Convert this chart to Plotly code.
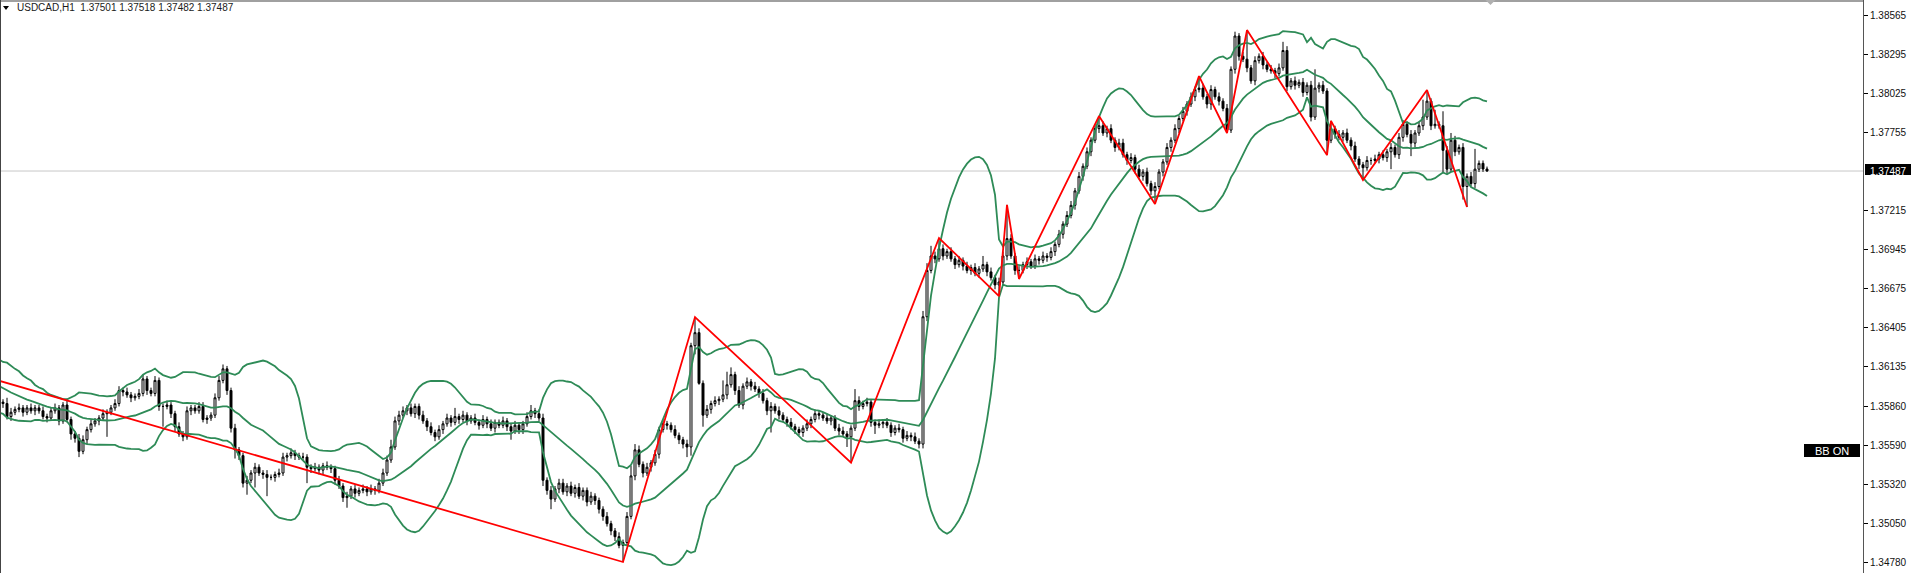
import numpy as np
import pandas as pd
import plotly.graph_objects as go

# ---------------- data ----------------
symbol_title = "USDCAD,H1"
last_ohlc = ["1.37501", "1.37518", "1.37482", "1.37487"]
current_price = 1.37487
first_bar = -20          # 20 bars before the visible window (for the bands)
first_open = 1.3616

closes = [
    1.3614, 1.3611, 1.3615, 1.3610, 1.3607, 1.3611, 1.3605, 1.3602, 1.3606, 1.3600,
    1.3597, 1.3601, 1.3595, 1.3592, 1.3595, 1.3590, 1.3587, 1.3590, 1.3586, 1.3589,
    # 0
    1.3588, 1.3579, 1.3582, 1.3584, 1.3585, 1.3582, 1.3585, 1.3583, 1.3585, 1.3583,
    1.3579, 1.3578, 1.3583, 1.3585, 1.3576, 1.3587, 1.3577, 1.3567, 1.3564, 1.3555,
    1.3563, 1.3570, 1.3574, 1.3576, 1.3578, 1.3581, 1.3582, 1.3585, 1.3588, 1.3597,
    1.3596, 1.3594, 1.3592, 1.3593, 1.3595, 1.3605, 1.3597, 1.3595, 1.3604, 1.3586,
    1.3586, 1.3587, 1.3581, 1.3572, 1.3567, 1.3565, 1.3583, 1.3585, 1.3583, 1.3586,
    1.3577, 1.3578, 1.3580, 1.3592, 1.3604, 1.3612, 1.3597, 1.3571, 1.3556, 1.3552,
    1.3533, 1.3535, 1.3540, 1.3544, 1.3540, 1.3539, 1.3537, 1.3537, 1.3539, 1.3540,
    1.3551, 1.3552, 1.3554, 1.3552, 1.3551, 1.3551, 1.3544, 1.3543, 1.3544, 1.3542,
    1.3545, 1.3544, 1.3543, 1.3535, 1.3531, 1.3523, 1.3524, 1.3529, 1.3526, 1.3528,
    1.3529, 1.3527, 1.3529, 1.3528, 1.3533, 1.3540, 1.3549, 1.3558, 1.3576, 1.3580,
    # 100
    1.3583, 1.3585, 1.3581, 1.3586, 1.3580, 1.3576, 1.3572, 1.3568, 1.3565, 1.3570,
    1.3574, 1.3578, 1.3575, 1.3579, 1.3577, 1.3580, 1.3576, 1.3578, 1.3575, 1.3573,
    1.3577, 1.3574, 1.3571, 1.3575, 1.3573, 1.3576, 1.3572, 1.3569, 1.3573, 1.3570,
    1.3574, 1.3579, 1.3583, 1.3581, 1.3578, 1.3535, 1.3528, 1.3522, 1.3529, 1.3533,
    1.3527, 1.3531, 1.3526, 1.3530, 1.3524, 1.3528, 1.3520, 1.3524, 1.3521, 1.3515,
    1.3510, 1.3505, 1.3500, 1.3496, 1.3490, 1.3492, 1.3510, 1.3538, 1.3556, 1.3546,
    1.3540, 1.3544, 1.3547, 1.3553, 1.3570, 1.3574, 1.3573, 1.3570, 1.3566, 1.3563,
    1.3560, 1.3558, 1.3628, 1.3637, 1.3602, 1.3580, 1.3584, 1.3588, 1.3590, 1.3591,
    1.3594, 1.3601, 1.3608, 1.3597, 1.3587, 1.3600, 1.3603, 1.3600, 1.3598, 1.3595,
    1.3590, 1.3583, 1.3586, 1.3583, 1.3580, 1.3577, 1.3575, 1.3572, 1.3570, 1.3568,
    # 200
    1.3571, 1.3574, 1.3577, 1.3581, 1.3580, 1.3578, 1.3576, 1.3578, 1.3571, 1.3569,
    1.3567, 1.3565, 1.3571, 1.3590, 1.3586, 1.3588, 1.3589, 1.3575, 1.3573, 1.3574,
    1.3575, 1.3573, 1.3568, 1.3571, 1.3570, 1.3564, 1.3566, 1.3565, 1.3562, 1.3560,
    1.3648, 1.3680, 1.3690, 1.3688, 1.3695, 1.3690, 1.3693, 1.3688, 1.3684, 1.3687,
    1.3683, 1.3680, 1.3682, 1.3678, 1.3681, 1.3684, 1.3679, 1.3675, 1.3670, 1.3672,
    1.3690, 1.3702, 1.3690, 1.3680, 1.3680, 1.3684, 1.3686, 1.3683, 1.3688, 1.3687,
    1.3690, 1.3689, 1.3693, 1.3698, 1.3705, 1.3712, 1.3718, 1.3725, 1.3735, 1.3745,
    1.3752, 1.3762, 1.3770, 1.3778, 1.3780, 1.3775, 1.3778, 1.3770, 1.3765, 1.3768,
    1.3760, 1.3756, 1.3758, 1.3750, 1.3745, 1.3748, 1.3740, 1.3735, 1.3738, 1.3748,
    1.3755, 1.3765, 1.3770, 1.3778, 1.3785, 1.3790, 1.3795, 1.3800, 1.3805, 1.3806,
    # 300
    1.3800, 1.3795, 1.3805, 1.3800, 1.3797, 1.3792, 1.3777, 1.3819, 1.3842, 1.3828,
    1.3826, 1.3820, 1.3811, 1.3825, 1.3828, 1.3822, 1.3819, 1.3818, 1.3816, 1.3820,
    1.3832, 1.3807, 1.3811, 1.3808, 1.3810, 1.3803, 1.3808, 1.3786, 1.3806, 1.3808,
    1.3804, 1.3770, 1.3778, 1.3774, 1.3772, 1.3775, 1.3770, 1.3766, 1.3757, 1.3753,
    1.3751, 1.3756, 1.3756, 1.3757, 1.3760, 1.3758, 1.3762, 1.3765, 1.3760, 1.3772,
    1.3781, 1.3774, 1.3768, 1.3775, 1.3780, 1.3786, 1.3797, 1.3780, 1.3781, 1.3780,
    1.3763, 1.3750, 1.3770, 1.3762, 1.3765, 1.3738, 1.3745, 1.3740, 1.3750, 1.3754,
    1.37501, 1.37487,
]

wick_up_pips = [
    2, 3, 2, 3, 2, 2, 3, 2, 2, 3,
    2, 3, 2, 2, 3, 2, 3, 2, 2, 3,
    # 0
    2, 4, 3, 2, 3, 2, 2, 3, 2, 2,
    3, 2, 2, 3, 2, 2, 3, 2, 2, 3,
    3, 2, 3, 2, 2, 3, 2, 2, 3, 3,
    2, 3, 2, 2, 3, 3, 2, 2, 3, 2,
    2, 3, 2, 2, 3, 2, 3, 2, 2, 3,
    3, 2, 2, 3, 3, 3, 2, 2, 3, 2,
    2, 3, 2, 3, 2, 2, 3, 2, 2, 3,
    3, 2, 3, 2, 2, 3, 2, 2, 3, 2,
    2, 3, 2, 2, 3, 2, 3, 2, 3, 2,
    3, 2, 3, 2, 3, 3, 3, 5, 3, 3,
    # 100
    3, 2, 3, 2, 2, 3, 2, 3, 2, 3,
    2, 3, 2, 6, 2, 3, 2, 2, 3, 2,
    3, 2, 3, 2, 2, 3, 2, 2, 3, 2,
    2, 3, 4, 2, 3, 3, 2, 3, 2, 3,
    3, 2, 3, 2, 3, 2, 2, 3, 2, 2,
    2, 3, 2, 2, 3, 2, 3, 7, 4, 3,
    2, 3, 2, 3, 2, 3, 2, 2, 3, 2,
    2, 3, 2, 10.8, 3, 2, 3, 2, 3, 2,
    10, 9, 5, 2, 3, 2, 3, 2, 3, 2,
    3, 2, 3, 2, 3, 2, 2, 3, 2, 2,
    # 200
    2, 3, 2, 3, 2, 2, 3, 2, 2, 3,
    3, 2, 2, 8, 3, 2, 3, 2, 2, 3,
    2, 3, 2, 2, 3, 2, 3, 2, 3, 2,
    4, 5, 7, 3, 7.4, 3, 2, 3, 2, 3,
    2, 3, 2, 3, 2, 6, 2, 3, 2, 3,
    3, 23.3, 3, 2, 3, 2, 3, 2, 3, 2,
    3, 2, 3, 2, 3, 2, 3, 3, 2, 3,
    2, 3, 2, 3, 6.7, 3, 2, 3, 2, 3,
    3, 2, 3, 2, 3, 2, 3, 2, 3, 2,
    2, 3, 2, 3, 2, 3, 2, 3, 2, 8.3,
    # 300
    3, 2, 3, 2, 3, 2, 3, 2, 3, 2,
    3, 20.1, 2, 3, 2, 3, 2, 3, 2, 3,
    6, 3, 2, 3, 2, 3, 2, 3, 13, 2,
    3, 2, 5.4, 2, 3, 2, 3, 2, 3, 2,
    2, 3, 2, 3, 2, 3, 2, 3, 2, 3,
    3, 2, 3, 2, 3, 12, 7.7, 2, 10, 2,
    10, 3, 5, 3, 2, 3, 2, 3, 14, 2,
    2, 1.7,
]

wick_dn_pips = [
    3, 2, 3, 2, 3, 2, 2, 3, 2, 2,
    2, 2, 3, 2, 2, 3, 2, 2, 3, 2,
    # 0
    3, 2, 3, 2, 2, 3, 2, 2, 3, 2,
    2, 3, 2, 2, 3, 2, 2, 4, 3, 4,
    2, 3, 2, 2, 3, 2, 16, 2, 2, 2,
    3, 2, 3, 2, 2, 2, 3, 2, 2, 3,
    14, 2, 3, 3, 2, 3, 2, 3, 2, 2,
    2, 3, 2, 2, 2, 2, 3, 3, 6, 3,
    3, 8, 2, 10, 2, 3, 13, 2, 3, 2,
    2, 3, 2, 3, 2, 2, 11, 3, 2, 3,
    3, 2, 3, 3, 2, 3, 7, 2, 3, 2,
    2, 3, 2, 3, 2, 2, 2, 2, 2, 3,
    # 100
    2, 3, 2, 3, 3, 2, 3, 2, 3, 2,
    3, 2, 3, 2, 3, 2, 3, 2, 2, 3,
    2, 3, 2, 3, 2, 2, 3, 6, 2, 3,
    3, 2, 2, 3, 2, 4, 3, 7, 2, 3,
    2, 3, 2, 3, 2, 3, 3, 2, 3, 3,
    3, 2, 3, 3, 2, 11.5, 2, 2, 3, 2,
    3, 2, 3, 2, 3, 2, 3, 2, 2, 3,
    3, 7, 6, 6, 1, 8, 2, 3, 2, 3,
    2, 3, 2, 3, 2, 3, 2, 3, 2, 3,
    2, 3, 15, 2, 3, 2, 3, 2, 3, 2,
    # 200
    3, 2, 3, 2, 3, 2, 2, 3, 2, 3,
    2, 7, 17.9, 2, 3, 2, 2, 3, 6, 2,
    3, 2, 3, 2, 2, 3, 2, 3, 2, 3,
    3, 3, 2, 3, 2, 3, 2, 2, 3, 2,
    3, 2, 3, 2, 3, 2, 3, 2, 3, 7.7,
    2, 3, 2, 3, 5.9, 2, 3, 2, 2, 3,
    2, 3, 2, 3, 2, 3, 2, 2, 3, 2,
    3, 2, 3, 2, 3, 2, 3, 2, 3, 2,
    2, 3, 2, 3, 2, 3, 2, 3, 9.1, 2,
    3, 2, 3, 2, 3, 2, 3, 2, 3, 2,
    # 300
    2, 3, 4, 2, 3, 2, 2.0, 2, 3, 3,
    2, 3, 2, 3, 2, 3, 2, 2, 3, 2,
    2, 3, 2, 3, 2, 3, 2, 3, 2, 3,
    2, 10.3, 2, 3, 2, 3, 2, 3, 2, 3,
    8.5, 2, 3, 2, 3, 2, 3, 12, 2, 3,
    3, 2, 9, 3, 2, 3, 2, 3, 2, 2,
    16, 3, 2, 3, 2, 9, 14.2, 2, 3, 2,
    2, 0.5,
]

# ZigZag turning points (bar index, price)
zz_bars = [-20, 155, 173, 212, 234, 249, 251, 254, 274, 288, 299, 306, 311, 331, 332, 340, 356, 366]
zz_prices = [1.36191, 1.34785, 1.36478, 1.35471, 1.37024, 1.36623, 1.37253, 1.36741, 1.37867,
             1.37259, 1.38143, 1.37750, 1.38461, 1.37597, 1.37834, 1.37425, 1.38047, 1.37238]

price_tick_labels = ["1.38565", "1.38295", "1.38025", "1.37755", "1.37215", "1.36945", "1.36675",
                     "1.36405", "1.36135", "1.35860", "1.35590", "1.35320", "1.35050", "1.34780"]

bb_period = 20
bb_deviation = 2.0
pip = 0.0001

# ---------------- derived ----------------
bars = np.arange(first_bar, first_bar + len(closes))
c = np.array(closes, dtype=float)
o = np.concatenate([[first_open], c[:-1]])
h = np.round(np.maximum(o, c) + np.array(wick_up_pips) * pip, 5)
l = np.round(np.minimum(o, c) - np.array(wick_dn_pips) * pip, 5)

cs = pd.Series(c)
mid = cs.rolling(bb_period).mean()
sd = cs.rolling(bb_period).std(ddof=0)
upper = mid + bb_deviation * sd
lower = mid - bb_deviation * sd
valid = ~mid.isna().to_numpy()

# ---------------- figure ----------------
W, H = 1912, 573
R = 49
plot_w = W - R
bar_px = 4.0
x0_px = 3.0
x_min = -x0_px / bar_px
x_max = x_min + plot_w / bar_px
y_top, y_bot = 1.38669, 1.34709

fig = go.Figure()

fig.add_trace(go.Candlestick(
    x=bars, open=o, high=h, low=l, close=c,
    increasing=dict(line=dict(color="#000000", width=1), fillcolor="#ffffff"),
    decreasing=dict(line=dict(color="#000000", width=1), fillcolor="#000000"),
    whiskerwidth=0, hoverinfo="skip", showlegend=False,
))

bb_color = "#2e8b57"
for band in (upper, mid, lower):
    fig.add_trace(go.Scatter(x=bars[valid], y=band.to_numpy()[valid], mode="lines",
                             line=dict(color=bb_color, width=1.8), hoverinfo="skip",
                             showlegend=False))

fig.add_trace(go.Scatter(x=zz_bars, y=zz_prices, mode="lines",
                         line=dict(color="#ff0000", width=1.8), hoverinfo="skip",
                         showlegend=False))

font_main = "Liberation Sans, Arial, sans-serif"

fig.update_layout(
    width=W, height=H,
    margin=dict(l=0, r=R, t=0, b=0),
    paper_bgcolor="#ffffff", plot_bgcolor="#ffffff",
    showlegend=False,
    xaxis=dict(range=[x_min, x_max], visible=False, rangeslider=dict(visible=False),
               fixedrange=True),
    yaxis=dict(range=[y_bot, y_top], side="right", showgrid=False, zeroline=False,
               tickmode="array", tickvals=[float(t) for t in price_tick_labels],
               ticktext=price_tick_labels, ticks="outside", ticklen=4, tickwidth=1,
               tickcolor="#000000", showline=True, linecolor="#555555", linewidth=1,
               tickfont=dict(family=font_main, size=10, color="#111111"),
               automargin=False, fixedrange=True),
    shapes=[
        # current price line
        dict(type="line", xref="paper", yref="y", x0=0, x1=1, y0=current_price, y1=current_price,
             line=dict(color="#c8c8c8", width=1), layer="below"),
        # top and left frame
        dict(type="line", xref="paper", yref="paper", x0=0, x1=1, y0=1, y1=1,
             line=dict(color="#a0a0a0", width=4)),
        dict(type="line", xref="paper", yref="paper", x0=0, x1=0, y0=0, y1=1,
             line=dict(color="#444444", width=2)),
        # header triangle
        dict(type="path", xref="paper", yref="paper", xsizemode="pixel", ysizemode="pixel",
             xanchor=0, yanchor=1, path="M 3,-6 L 9,-6 L 6,-10 Z",
             fillcolor="#000000", line=dict(width=0)),
        # chart-shift marker
        dict(type="path", xref="paper", yref="paper", xsizemode="pixel", ysizemode="pixel",
             xanchor=1490.5 / plot_w, yanchor=1, path="M -5,0 L 5,0 L 0,-5 Z",
             fillcolor="#b0b0b0", line=dict(width=0)),
        # BB ON box
        dict(type="path", xref="paper", yref="paper", xsizemode="pixel", ysizemode="pixel",
             xanchor=1, yanchor=1, path="M -59,-444 L -3,-444 L -3,-457 L -59,-457 Z",
             fillcolor="#000000", line=dict(width=0)),
        # current price box on the axis
        dict(type="path", xref="paper", yref="paper", xsizemode="pixel", ysizemode="pixel",
             xanchor=1, yanchor=1, path="M 2,-164 L 48,-164 L 48,-175 L 2,-175 Z",
             fillcolor="#000000", line=dict(width=0)),
    ],
    annotations=[
        dict(xref="paper", yref="paper", x=15 / plot_w, y=1 - 8 / H, xanchor="left",
             yanchor="middle", showarrow=False,
             text=symbol_title + "\u00a0\u00a0" + " ".join(last_ohlc),
             font=dict(family=font_main, size=10, color="#1a1a1a")),
        dict(xref="paper", yref="paper", x=1832 / plot_w, y=1 - 450.5 / H, xanchor="center",
             yanchor="middle", showarrow=False, text="BB ON",
             font=dict(family=font_main, size=11, color="#ffffff")),
        dict(xref="paper", yref="y", x=1 + 25 / plot_w, y=current_price, xanchor="center",
             yanchor="middle", showarrow=False, text=f"{current_price:.5f}",
             font=dict(family=font_main, size=10, color="#ffffff")),
    ],
)

fig.write_html("out.html", config=dict(displayModeBar=False),
               post_script="document.body.style.margin='0px';document.body.style.overflow='hidden';")
